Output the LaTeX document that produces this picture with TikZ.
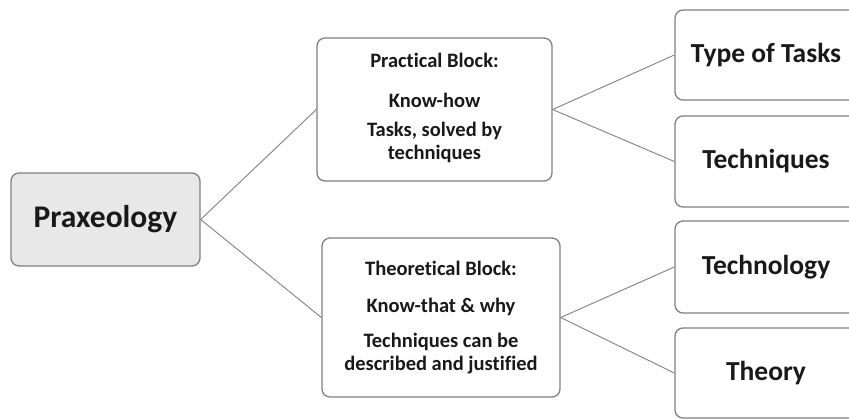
\documentclass[tikz,border=0pt]{standalone}
\usepackage{fontspec}
\setmainfont{Carlito}[Ligatures=NoCommon]
\usetikzlibrary{positioning}
\definecolor{edge}{RGB}{128,128,128}
\definecolor{ink}{RGB}{25,25,25}
\definecolor{rootfill}{RGB}{232,232,232}
\tikzset{
  blk/.style={draw=edge,line width=1.3pt,rounded corners=8pt,fill=white,
    text=ink,align=center,font=\bfseries,inner sep=3pt},
  root/.style={blk,fill=rootfill,font=\fontsize{31.5}{36}\bfseries\selectfont},
  mid/.style={blk,font=\fontsize{20.5}{23}\bfseries\selectfont},
  leaf/.style={blk,font=\fontsize{27.5}{32}\bfseries\selectfont},
  ln/.style={draw=edge,line width=0.9pt},
}

\begin{document}
\begin{tikzpicture}[x=1pt,y=-1pt]
  \useasboundingbox (0,0) rectangle (849,418);
  \begin{scope}
  \clip (0,0) rectangle (849,418);
  % root of the tree
  \node[root,minimum width=189pt,minimum height=93pt] (prax) at (105.5,219.5) {Praxeology};

  % the two blocks
  \node[mid,minimum width=235pt,minimum height=143pt] (prac) at (434.5,109.5)
    {Practical Block:\\[17pt] Know-how\\[6pt] Tasks, solved by\\ techniques\\[-16pt]\mbox{}};
  \node[mid,minimum width=238pt,minimum height=159pt] (theo) at (441,317.5)
    {Theoretical Block:\\[14pt] Know-that \& why\\[12pt] Techniques can be\\ described and justified};

  % leaves, running off the right edge
  \node[leaf,minimum width=182pt,minimum height=90pt] (tasks) at (766,55) {Type of Tasks};
  \node[leaf,minimum width=182pt,minimum height=91pt] (tech) at (766,161.5) {Techniques};
  \node[leaf,minimum width=182pt,minimum height=92pt] (tgy) at (766,267) {Technology};
  \node[leaf,minimum width=182pt,minimum height=90pt] (thy) at (766,373) {Theory};

  % connectors
  \draw[ln] (prax.east) -- (prac.west);
  \draw[ln] (prax.east) -- (theo.west);
  \draw[ln] (prac.east) -- (tasks.west);
  \draw[ln] (prac.east) -- (tech.west);
  \draw[ln] (theo.east) -- (tgy.west);
  \draw[ln] (theo.east) -- (thy.west);
  \end{scope}
\end{tikzpicture}
\end{document}
